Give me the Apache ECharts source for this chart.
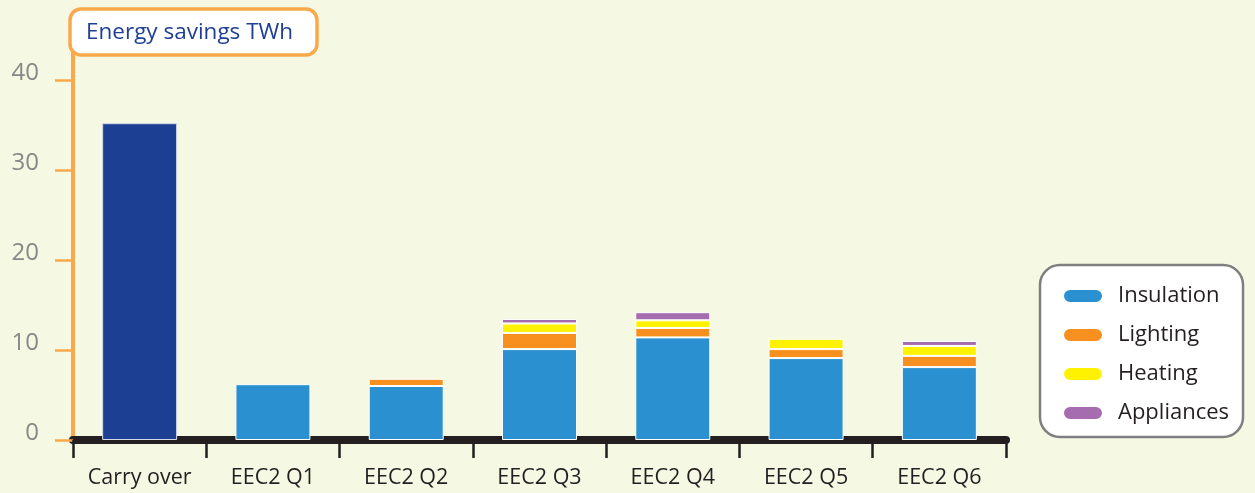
<!DOCTYPE html>
<html><head><meta charset="utf-8">
<script src="https://cdn.jsdelivr.net/npm/echarts@6/dist/echarts.min.js"></script>
<style>html,body{margin:0;padding:0;background:#f5f8e2;}#c{width:1255px;height:493px;}</style>
</head><body><div id="c"></div>
<script>
var categories = ['Carry over','EEC2 Q1','EEC2 Q2','EEC2 Q3','EEC2 Q4','EEC2 Q5','EEC2 Q6'];
var carryOver  = [35.2, '-', '-', '-', '-', '-', '-'];
var insulation = ['-', 6.2, 6.0, 10.1, 11.4, 9.1, 8.1];
var lighting   = ['-', '-', 0.8, 1.8, 1.05, 1.0, 1.25];
var heating    = ['-', '-', '-', 1.05, 0.85, 1.15, 1.1];
var appliances = ['-', '-', '-', 0.5, 0.9, '-', 0.55];
var yTicks = {min: 0, max: 40, interval: 10};
var titleText = 'Energy savings TWh';

var FONT = '"Open Sans", "Noto Sans", sans-serif';
var pill = 'path://M7,0 H33 A7,7 0 0 1 33,14 H7 A7,7 0 0 1 7,0 Z';
function seg(name, data, color, bc) {
  return {name: name, type: 'bar', stack: 'a', data: data, barWidth: 75,
    itemStyle: {color: color, borderColor: bc || '#ffffff', borderWidth: 1}};
}
var chart = echarts.init(document.getElementById('c'));
chart.setOption({
  backgroundColor: '#f5f8e2',
  animation: false,
  title: {text: titleText, left: 70, top: 9,
    backgroundColor: '#ffffff', borderColor: '#f9a94b', borderWidth: 3.5, borderRadius: 11,
    padding: [12, 24, 11, 16],
    textStyle: {color: '#1f3f95', fontFamily: FONT, fontSize: 22.5, fontWeight: 'normal'}},
  grid: {left: 73, right: 249, top: 80, bottom: 53},
  legend: {orient: 'vertical', left: 1040, top: 265,
    data: ['Insulation','Lighting','Heating','Appliances'],
    icon: pill, itemWidth: 40, itemHeight: 14, itemGap: 17,
    backgroundColor: '#ffffff', borderColor: '#7f7f7f', borderWidth: 2.5, borderRadius: 20,
    padding: [20, 14, 13, 22],
    textStyle: {color: '#231f20', fontFamily: FONT, fontSize: 22, lineHeight: 22, padding: [0,0,0,10]}},
  xAxis: {type: 'category', data: categories, offset: 4,
    axisLine: {lineStyle: {color: '#231f20', width: 8}},
    axisTick: {show: true, interval: 0, length: 18, lineStyle: {color: '#231f20', width: 2.5}},
    axisLabel: {interval: 0, hideOverlap: false, color: '#231f20', fontFamily: FONT, fontSize: 21.5, margin: 23}},
  yAxis: {type: 'value', min: yTicks.min, max: yTicks.max, interval: yTicks.interval,
    splitLine: {show: false},
    axisLine: {show: true, lineStyle: {color: '#f9a94b', width: 4}},
    axisTick: {show: true, length: 18, lineStyle: {color: '#f9a94b', width: 2.5}},
    axisLabel: {color: '#888888', fontFamily: FONT, fontSize: 24, margin: 34,
      verticalAlign: 'bottom', lineHeight: 14}},
  graphic: [{type: 'rect', shape: {x: 71, y: 50, width: 4, height: 32}, style: {fill: '#f9a94b'}}],
  series: [
    seg('Carry over', carryOver, '#1c3f94', '#d5dae6'),
    seg('Insulation', insulation, '#2b90d0'),
    seg('Lighting', lighting, '#f7901e'),
    seg('Heating', heating, '#fff200'),
    seg('Appliances', appliances, '#a66cb0')
  ]
});
</script></body></html>
